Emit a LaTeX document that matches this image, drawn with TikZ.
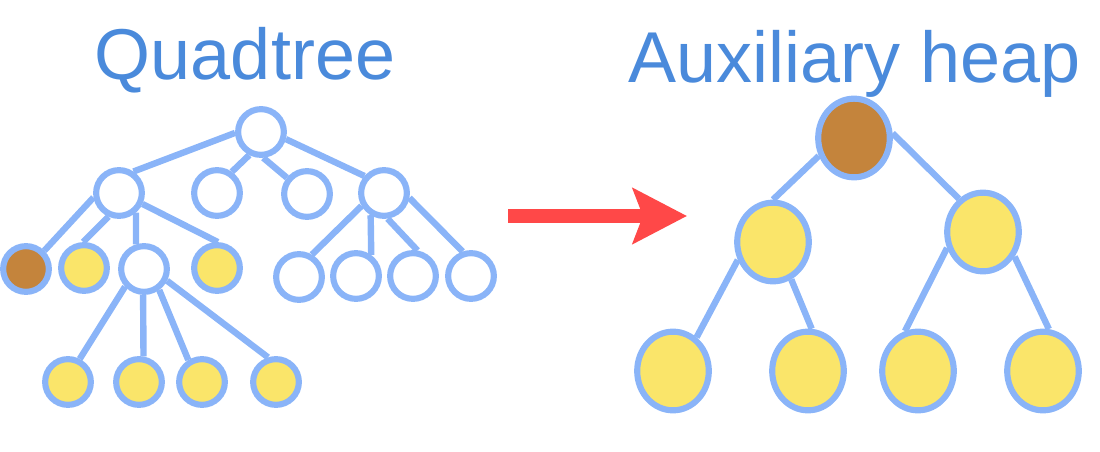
\documentclass[tikz,border=0pt]{standalone}
\usepackage{fontspec}
\setmainfont{Liberation Sans}
\usetikzlibrary{shapes.geometric,arrows.meta}
\definecolor{titleblue}{HTML}{4A8ADB}
\definecolor{edgeblue}{HTML}{8AB4F8}
\definecolor{nodeyellow}{HTML}{FAE56A}
\definecolor{nodebrown}{HTML}{C4843C}
\definecolor{arrowred}{HTML}{FF4848}
\tikzset{
  qnode/.style={circle, draw=edgeblue, line width=4.6pt, fill=white, inner sep=0pt, minimum size=34.3pt},
  hnode/.style={ellipse, draw=edgeblue, line width=4.6pt, fill=nodeyellow, inner sep=0pt, minimum width=53.7pt, minimum height=59pt},
  yel/.style={fill=nodeyellow},
  brn/.style={fill=nodebrown},
  link/.style={draw=edgeblue, line width=4.8pt},
  title/.style={text=titleblue, font=\fontsize{54}{62}\selectfont, anchor=base, inner sep=0pt},
}
\begin{document}
\begin{tikzpicture}[x=0.75pt,y=-0.75pt]
\useasboundingbox (0,0) rectangle (1100,452);
% titles
\node[title] (t1) at (245,80) {Quadtree};
\node[title] (t2) at (855,83) {Auxiliary heap};
% quadtree nodes
\node[qnode] (r) at (261,132) {};
\node[qnode] (a) at (119,193) {};
\node[qnode] (b) at (217,193) {};
\node[qnode] (c) at (307,194) {};
\node[qnode] (d) at (384,193) {};
\node[qnode,brn] (a1) at (26,269) {};
\node[qnode,yel] (a2) at (84,268) {};
\node[qnode] (a3) at (144,269) {};
\node[qnode,yel] (a4) at (217,268) {};
\node[qnode] (d1) at (299,277) {};
\node[qnode] (d2) at (356,276) {};
\node[qnode] (d3) at (413,276) {};
\node[qnode] (d4) at (471,276) {};
\node[qnode,yel] (e1) at (68,382) {};
\node[qnode,yel] (e2) at (139,382) {};
\node[qnode,yel] (e3) at (202,382) {};
\node[qnode,yel] (e4) at (276,382) {};
% quadtree edges
\path[link] (r.182) -- (a.56) (r.243) -- (b.55) (r.275) -- (c.141) (r.-16) -- (d.139)
  (a.190) -- (a1.45) (a.246) -- (a2.92) (a.-49) -- (a3.108) (a.-25) -- (a4.88)
  (d.210) -- (d1.60) (d.239) -- (d2.54) (d.-82) -- (d3.80) (d.-11) -- (d4.109)
  (a3.223) -- (e1.63) (a3.268) -- (e2.80) (a3.-54) -- (e3.122) (a3.-27) -- (e4.108);
% heap nodes
\node[hnode,brn] (h) at (854,138) {};
\node[hnode] (hl) at (773,242) {};
\node[hnode] (hr) at (983,232) {};
\node[hnode] (h1) at (673,371) {};
\node[hnode] (h2) at (808,371) {};
\node[hnode] (h3) at (918,371) {};
\node[hnode] (h4) at (1043,371) {};
\path[link] (h.207) -- (hl.90) (h.7) -- (hr.126)
  (hl.207) -- (h1.55) (hl.-64) -- (h2.85)
  (hr.204) -- (h3.108) (hr.-38) -- (h4.82);
% arrow
\coordinate (as) at (508,216);
\coordinate (ae) at (687,216);
\draw[arrowred, line width=10.5pt, -{Stealth[length=40.5pt, width=41.25pt, inset=7.5pt]}] (as) -- (ae);
\end{tikzpicture}
\end{document}
